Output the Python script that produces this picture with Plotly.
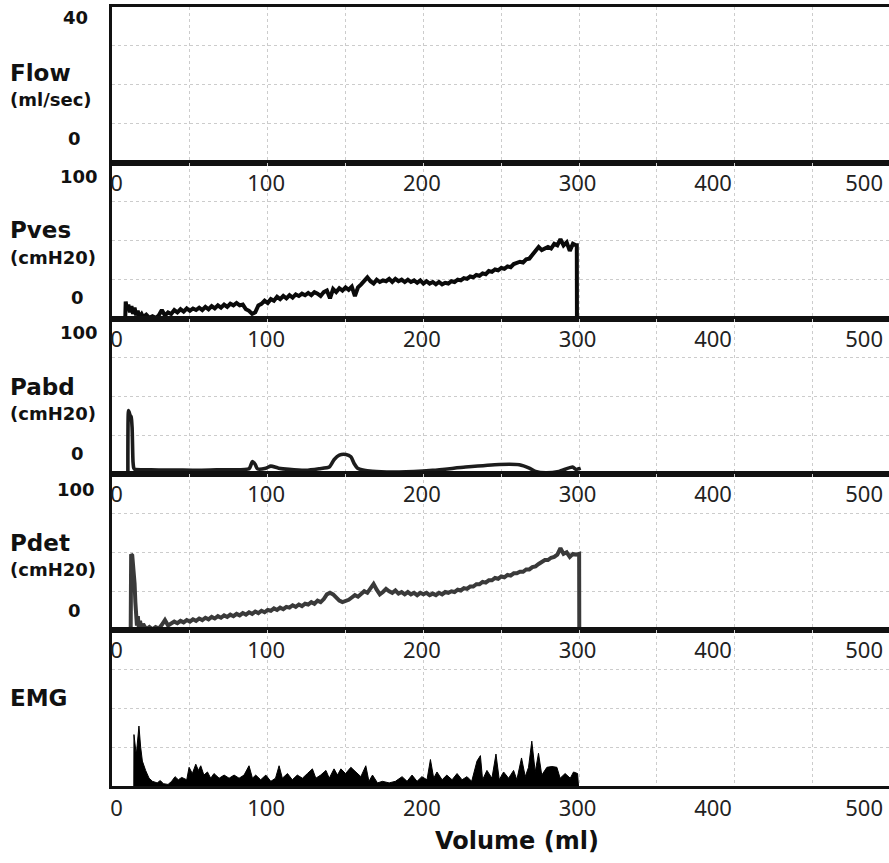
import plotly.graph_objects as go

# ---------------- data ----------------
tick_vals = [3, 99, 199, 299, 386, 483]
tick_text = ["0", "100", "200", "300", "400", "500"]

pves_x = [8.5, 8.8, 9.5, 10.5, 11.5, 12.5, 13.5, 14.5, 15.5, 16.5, 17.5, 19,
          20, 22, 24, 26, 28, 30, 32, 34, 36, 38,
          40, 42, 44, 46, 48, 50, 52, 54, 56, 58,
          60, 62, 64, 66, 68, 70, 72, 74, 76, 78,
          80, 82, 84, 86, 88, 90, 92, 94, 96, 98,
          100, 102, 104, 106, 108, 110, 112, 114, 116, 118,
          120, 122, 124, 126, 128, 130, 132, 134, 136, 138,
          140, 142, 144, 146, 148, 150, 152, 154, 156, 158,
          160, 162, 164, 166, 168, 170, 172, 174, 176, 178,
          180, 182, 184, 186, 188, 190, 192, 194, 196, 198,
          200, 202, 204, 206, 208, 210, 212, 214, 216, 218,
          220, 222, 224, 226, 228, 230, 232, 234, 236, 238,
          240, 242, 244, 246, 248, 250, 252, 254, 256, 258,
          260, 262, 264, 266, 268, 270, 272, 274, 276, 278,
          280, 282, 284, 286, 288, 290, 292, 294, 296, 298,
          298.5, 298.6]
pves_y = [0, 11, 6, 9, 4, 8, 3, 7, 2, 5, 1, 3,
          1, 2.5, 0.5, 1.5, 0.5, 2, 5.5, 2, 4, 3,
          5.5, 4, 6, 4.5, 6.5, 5, 6.5, 5.5, 7, 5.5,
          7.5, 6, 8, 6.5, 8.5, 7, 9, 7.5, 9.5, 8.5,
          10, 8.5, 9, 6, 5, 3, 4, 8.5, 9.5, 11.5,
          10, 12.5, 11.5, 14, 12.5, 14.5, 13, 15, 13.5, 15.5,
          14.5, 16, 15, 16.5, 15, 17, 16, 14.5, 17, 18,
          13, 19, 17, 19.5, 18, 20, 18.5, 20.5, 14.5, 20,
          22, 24, 26.5, 24, 22.5, 25, 23.5, 24.5, 24, 25.5,
          23.5, 25.5, 24, 25, 23.5, 25, 23.5, 24.5, 23, 24.5,
          22.5, 24, 22.5, 23.5, 22, 23.5, 22, 23, 22.5, 24,
          23.5, 25, 24.5, 26, 25.5, 27, 26.5, 28, 27.5, 29,
          28.5, 30.5, 30, 31.5, 31, 32.5, 32, 33.5, 33, 35,
          35.5, 36.5, 36, 38, 38.5, 41, 43, 46, 44, 45,
          46, 45, 48, 47, 51, 47, 49, 43.5, 48, 47,
          47, 0]

pabd_x = [10.2, 10.6, 11.0, 11.6, 12.3, 12.9, 13.5, 14.0, 14.6, 20, 30, 40, 56, 70, 88, 90.2, 92, 93.4, 98.8, 102,
          107, 113.7, 124.5, 133, 139.5, 142.7, 146, 150.2, 153.4, 155.5, 157.7, 167.3, 184.4, 206, 227, 248.7,
          261.6, 268, 272, 278.7, 287, 295.8, 298, 301]
pabd_y = [0, 41, 40, 38, 37, 30, 8, 4, 3.2, 3, 2.8, 2.8, 2.6, 3.0, 3.6, 8.3, 6.4, 3.6, 4, 5.3,
          4, 3.2, 2.6, 3.6, 4.7, 9.6, 12.4, 12.8, 11.3, 7, 4, 2, 1.5, 2.6, 4.7, 6.4,
          6.2, 4, 1.9, 1, 1.9, 4.7, 3.2, 4]

pdet_x = [12, 12.3, 13, 13.8, 14.5, 15, 15.6, 16, 16.6, 17.2, 18, 18.8,
          20, 22, 24, 26, 28, 30, 32, 34, 36, 38,
          40, 42, 44, 46, 48, 50, 52, 54, 56, 58,
          60, 62, 64, 66, 68, 70, 72, 74, 76, 78,
          80, 82, 84, 86, 88, 90, 92, 94, 96, 98,
          100, 102, 104, 106, 108, 110, 112, 114, 116, 118,
          120, 122, 124, 126, 128, 130, 132, 134, 136, 138,
          140, 142, 144, 146, 148, 150, 152, 154, 156, 158,
          160, 162, 164, 166, 168, 170, 172, 174, 176, 178,
          180, 182, 184, 186, 188, 190, 192, 194, 196, 198,
          200, 202, 204, 206, 208, 210, 212, 214, 216, 218,
          220, 222, 224, 226, 228, 230, 232, 234, 236, 238,
          240, 242, 244, 246, 248, 250, 252, 254, 256, 258,
          260, 262, 264, 266, 268, 270, 272, 274, 276, 278,
          280, 282, 284, 286, 288, 290, 292, 294, 296, 298,
          300, 300.1]
pdet_y = [0, 48.7, 48, 40, 30, 18, 8, 3, 9, 2, 6, 1,
          4, 0.5, 2, 0.5, 2, 1, 3.5, 6.5, 3, 4.5,
          5.5, 4.5, 6, 5, 6.5, 5.5, 7, 6, 7.5, 6.5,
          8, 7, 8.5, 7.5, 9, 8, 9.5, 8.5, 10, 9,
          10.5, 9.5, 11, 10, 11.5, 10.5, 12, 11, 12.5, 11.5,
          13, 12.5, 14, 13, 14.5, 13.5, 15, 14.5, 16, 15,
          16.5, 15.5, 17, 16.5, 18, 17, 19, 18, 20, 23,
          24, 23, 20.5, 19, 18, 18.5, 19.5, 21, 22.5, 21.5,
          23, 25, 24, 27, 29.7, 26, 23, 24.5, 26.5, 25,
          24, 25.5, 23.5, 24.5, 23, 24.5, 23, 24, 22.5, 24,
          23, 24, 22.5, 23.5, 22.5, 24, 23, 24.5, 24, 25,
          24.5, 26, 25.5, 27, 26.5, 28, 28, 29.5, 29.5, 31,
          30.5, 32, 32, 33.5, 33, 34.5, 34, 35.5, 35, 36.5,
          36.5, 37.5, 37.5, 39, 39, 40.5, 41, 42.5, 44, 45,
          45, 46.5, 47, 48.5, 52.6, 49, 50, 47, 49, 48.5,
          49, 0]

emg_x = [14.0, 14.1, 15.6, 17.3, 18.4, 19.5, 21.6, 23.8, 26, 29, 31, 33, 36, 38.3, 40.5, 42.6, 44.8, 48, 49.5, 51.6,
         53.8, 55.5, 57, 59, 61.3, 63.4, 65.5, 68.8, 72, 75.2, 78.4, 81.6, 84.8, 88, 90.2, 92.3, 95.5, 98.8, 102, 105,
         107.3, 109.4, 112.7, 115.8, 119, 122.3, 125.5, 128.7, 130.9, 134, 137.4, 139.5, 142.6, 144.8, 147, 150, 153.4, 156.6, 159.8, 163,
         165, 167.3, 170.5, 173.7, 178, 182, 186.3, 189.5, 192.7, 195.9, 199, 202.3, 204.5, 206.6, 208.7, 212, 215, 218.4, 221.6, 224.8,
         228, 231, 234.4, 236.6, 238, 240.8, 244, 246.6, 248.7, 251.5, 254.7, 257.9, 260, 263, 265.4, 267.5, 269.6, 271.8, 273.9, 276,
         279.3, 282.5, 285.7, 287.8, 291, 294.3, 296.4, 299, 299.6]
emg_y = [0, 33, 20, 38.5, 25, 16, 10, 5, 3, 2, 3.5, 1.5, 1, 3, 6, 4, 5.5, 4, 12, 8,
         14, 10, 13, 7, 9, 5, 8, 5, 7, 5, 7, 5, 7, 13, 5, 7, 4, 7, 3, 5,
         13, 5, 8, 4, 7, 5, 8, 11, 5, 7, 10, 5, 11, 7, 11, 8, 12, 9, 6, 13,
         3, 7, 2, 3, 2, 3, 6, 3, 7, 3, 6, 4, 17, 5, 9, 4, 7, 4, 8, 4,
         6, 3, 16, 19.5, 4, 10, 5, 20.5, 4, 9, 5, 10, 4, 18, 6, 12, 28.8, 9, 21, 7,
         12, 12.5, 12, 5, 8, 5, 9, 8, 0]

panel_names = ["Flow", "Pves", "Pabd", "Pdet", "EMG"]
panel_units = ["(ml/sec)", "(cmH20)", "(cmH20)", "(cmH20)", ""]
panel_top_labels = ["40", "100", "100", "100", ""]
panel_zero_labels = ["0", "0", "0", "0", ""]
y_ranges = [[0, 40], [0, 100], [0, 100], [0, 100], [0, 100]]
y_dticks = [10, 25, 25, 25, 25]

# ---------------- layout geometry ----------------
W, H = 889, 863
ML, MR, MT, MB = 112, 0, 7, 77
PW = W - ML - MR
PH = H - MT - MB
X_RANGE = [0, 499]
N = 5


def px_x(px):
    return (px - ML) / PW


def px_y(py):
    return (H - MB - py) / PH


fig = go.Figure()

GRID = "#cccccc"
LINE = "#111111"

fig.add_trace(go.Scatter(x=pves_x, y=pves_y, mode="lines", xaxis="x2", yaxis="y2",
                         line=dict(color="#0a0a0a", width=4), showlegend=False))
fig.add_trace(go.Scatter(x=pabd_x, y=pabd_y, mode="lines", xaxis="x3", yaxis="y3",
                         line=dict(color="#1c1c1c", width=3.6, shape="spline", smoothing=0.6),
                         showlegend=False))
fig.add_trace(go.Scatter(x=pdet_x, y=pdet_y, mode="lines", xaxis="x4", yaxis="y4",
                         line=dict(color="#3a3a3a", width=4), showlegend=False))
fig.add_trace(go.Scatter(x=emg_x, y=emg_y, mode="lines", xaxis="x5", yaxis="y5",
                         fill="tozeroy", fillcolor="#000000",
                         line=dict(color="#000000", width=1), showlegend=False))
fig.add_trace(go.Scatter(x=[], y=[], xaxis="x", yaxis="y", showlegend=False))
fig.add_trace(go.Scatter(x=[], y=[], xaxis="x6", yaxis="y5", showlegend=False))

tick_font = dict(family="Noto Sans", size=22, color="#222222")
minor_grid = dict(tickmode="linear", tick0=0, dtick=50, showgrid=True,
                  gridcolor=GRID, griddash="dot", gridwidth=1)

layout = dict(width=W, height=H, margin=dict(l=ML, r=MR, t=MT, b=MB),
              paper_bgcolor="white", plot_bgcolor="white", showlegend=False)

for i in range(N):
    k = "" if i == 0 else str(i + 1)
    top = 1 - i / N
    bot = 1 - (i + 1) / N
    xa = dict(domain=[0, 1], range=X_RANGE, anchor="y" + k,
              tickmode="array", tickvals=tick_vals, ticktext=tick_text,
              showgrid=False, zeroline=False, minor=minor_grid,
              showline=True, mirror=True, linewidth=3, linecolor=LINE,
              tickfont=tick_font)
    if i == 0:
        xa.update(showticklabels=False, ticks="")
    else:
        xa.update(side="top", ticklabelposition="inside", ticklabeloverflow="allow",
                  ticks="inside", ticklen=14, tickcolor="rgba(0,0,0,0)")
    ya = dict(domain=[bot, top], range=y_ranges[i], anchor="x" + k,
              tickmode="linear", tick0=0, dtick=y_dticks[i],
              showgrid=True, gridcolor=GRID, griddash="dot", gridwidth=1,
              zeroline=False, showticklabels=False, ticks="",
              showline=True, mirror=False, linewidth=3, linecolor=LINE)
    layout["xaxis" + k] = xa
    layout["yaxis" + k] = ya

layout["xaxis6"] = dict(overlaying="x5", anchor="y5", side="bottom", range=X_RANGE,
                        tickmode="array", tickvals=tick_vals, ticktext=tick_text,
                        showgrid=False, zeroline=False, showline=False,
                        ticks="outside", ticklen=3, tickcolor="rgba(0,0,0,0)",
                        ticklabeloverflow="allow", tickfont=tick_font)

fig.update_layout(**layout)

# ---------------- left labels ----------------
name_font = dict(family="DejaVu Sans", size=23, color="#111111")
unit_font = dict(family="DejaVu Sans", size=18, color="#111111")
num_font = dict(family="DejaVu Sans", size=18, color="#111111")

name_y = [73, 230, 387, 543, 698]
unit_y = [100, 257, 413, 569, None]
top_y = [18, 176, 332, 489, None]
zero_y = [139, 297, 453, 610, None]
top_r = [90, 100, 100, 97, None]
zero_r = [83, 86, 86, 83, None]

for i in range(N):
    fig.add_annotation(x=px_x(8), y=px_y(name_y[i]), xref="paper", yref="paper",
                       text="<b>" + panel_names[i] + "</b>", showarrow=False,
                       xanchor="left", yanchor="middle", font=name_font)
    if panel_units[i]:
        fig.add_annotation(x=px_x(8), y=px_y(unit_y[i]), xref="paper", yref="paper",
                           text="<b>" + panel_units[i] + "</b>", showarrow=False,
                           xanchor="left", yanchor="middle", font=unit_font)
    if panel_top_labels[i]:
        fig.add_annotation(x=px_x(top_r[i]), y=px_y(top_y[i]), xref="paper", yref="paper",
                           text="<b>" + panel_top_labels[i] + "</b>", showarrow=False,
                           xanchor="right", yanchor="middle", font=num_font)
        fig.add_annotation(x=px_x(zero_r[i]), y=px_y(zero_y[i]), xref="paper", yref="paper",
                           text="<b>" + panel_zero_labels[i] + "</b>", showarrow=False,
                           xanchor="right", yanchor="middle", font=num_font)

fig.add_annotation(x=px_x(517), y=px_y(841), xref="paper", yref="paper",
                   text="<b>Volume (ml)</b>", showarrow=False,
                   xanchor="center", yanchor="middle",
                   font=dict(family="DejaVu Sans", size=24, color="#111111"))

fig.write_html("out.html")
